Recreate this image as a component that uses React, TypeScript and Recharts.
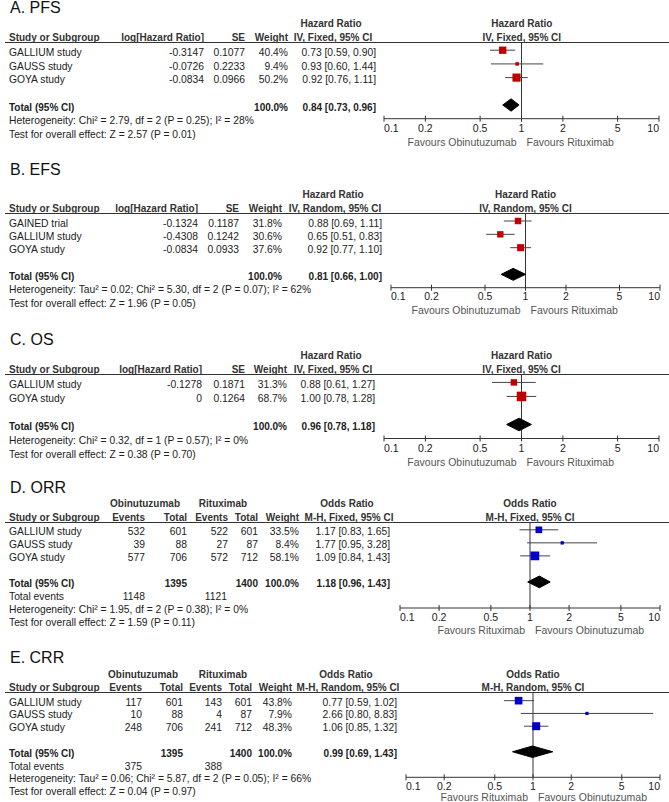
import React from "react"
import { ScatterChart, Scatter, XAxis, YAxis, ReferenceLine, ErrorBar } from "recharts"

// A. PFS
const pfsStudies = ["GALLIUM study", "GAUSS study", "GOYA study"]
const pfsLogHr = [-0.3147, -0.0726, -0.0834]
const pfsSe = [0.1077, 0.2233, 0.0966]
const pfsWeight = [40.4, 9.4, 50.2]
const pfsHr = [0.73, 0.93, 0.92]
const pfsLow = [0.59, 0.6, 0.76]
const pfsHigh = [0.9, 1.44, 1.11]
const pfsTotal = [0.84, 0.73, 0.96]

// B. EFS
const efsStudies = ["GAINED trial", "GALLIUM study", "GOYA study"]
const efsLogHr = [-0.1324, -0.4308, -0.0834]
const efsSe = [0.1187, 0.1242, 0.0933]
const efsWeight = [31.8, 30.6, 37.6]
const efsHr = [0.88, 0.65, 0.92]
const efsLow = [0.69, 0.51, 0.77]
const efsHigh = [1.11, 0.83, 1.1]
const efsTotal = [0.81, 0.66, 1.0]

// C. OS
const osStudies = ["GALLIUM study", "GOYA study"]
const osLogHr = [-0.1278, 0]
const osSe = [0.1871, 0.1264]
const osWeight = [31.3, 68.7]
const osHr = [0.88, 1.0]
const osLow = [0.61, 0.78]
const osHigh = [1.27, 1.28]
const osTotal = [0.96, 0.78, 1.18]

// D. ORR
const orrStudies = ["GALLIUM study", "GAUSS study", "GOYA study"]
const orrObiEvents = [532, 39, 577]
const orrObiTotal = [601, 88, 706]
const orrRitEvents = [522, 27, 572]
const orrRitTotal = [601, 87, 712]
const orrWeight = [33.5, 8.4, 58.1]
const orrOr = [1.17, 1.77, 1.09]
const orrLow = [0.83, 0.95, 0.84]
const orrHigh = [1.65, 3.28, 1.43]
const orrTotal = [1.18, 0.96, 1.43]
const orrSums = [1395, 1400]
const orrTotalEvents = [1148, 1121]

// E. CRR
const crrStudies = ["GALLIUM study", "GAUSS study", "GOYA study"]
const crrObiEvents = [117, 10, 248]
const crrObiTotal = [601, 88, 706]
const crrRitEvents = [143, 4, 241]
const crrRitTotal = [601, 87, 712]
const crrWeight = [43.8, 7.9, 48.3]
const crrOr = [0.77, 2.66, 1.06]
const crrLow = [0.59, 0.8, 0.85]
const crrHigh = [1.02, 8.83, 1.32]
const crrTotal = [0.99, 0.69, 1.43]
const crrSums = [1395, 1400]
const crrTotalEvents = [375, 388]

const axisTicks = [0.1, 0.2, 0.5, 1, 2, 5, 10]

const FONT = '"Liberation Sans", Arial, sans-serif'
const INK = "#222"
const LINE = "#333"
const RED = "#c00000"
const BLUE = "#0000c8"
const MX = 20
const AXIS_H = 34
const DIAMOND_H = 0.45

const ci = (e: number, l: number, h: number) => `${e.toFixed(2)} [${l.toFixed(2)}, ${h.toFixed(2)}]`
const pct = (w: number) => `${w.toFixed(1)}%`

function T({ x, y, children, align = "left", size = 10.3, bold = false, color = INK }: any) {
  const w = 500
  const left = align === "left" ? x : align === "right" ? x - w : x - w / 2
  return (
    <div
      style={{
        position: "absolute",
        left,
        top: y - size / 2,
        width: w,
        textAlign: align,
        fontSize: size,
        lineHeight: `${size}px`,
        fontWeight: bold ? 700 : 400,
        whiteSpace: "nowrap",
        color,
      }}
    >
      {children}
    </div>
  )
}

const makeTick = (fav: string[], labDy: number, favDy: number) => (props: any) => {
  const { x, y, payload } = props
  const v = payload.value
  const anchor = v === 0.1 ? "start" : v === 10 ? "end" : "middle"
  return (
    <g>
      <line x1={x} x2={x} y1={y - 3} y2={y + 3} stroke={LINE} />
      <text x={x} y={y + labDy + 3.7} textAnchor={anchor} fontSize={10.5} fill={INK} fontFamily={FONT}>
        {v}
      </text>
      {v === 1 && (
        <>
          <text x={x - 5} y={y + favDy + 3.7} textAnchor="end" fontSize={10.5} fill="#555" fontFamily={FONT}>
            {fav[0]}
          </text>
          <text x={x + 5} y={y + favDy + 3.7} textAnchor="start" fontSize={10.5} fill="#555" fontFamily={FONT}>
            {fav[1]}
          </text>
        </>
      )}
    </g>
  )
}

function Panel({ cfg }: any) {
  const n = cfg.studies.length
  const pitch = (cfg.axisY - cfg.lineY) / (cfg.axisRow + 0.6)
  const rowY = (r: number) => cfg.lineY + (r + 0.6) * pitch + 2.5
  const headY = cfg.lineY - 4.5
  const groupY = headY - 13.5
  const x1 = (cfg.left + cfg.right) / 2
  const totalRow = n + 1
  const footStart = cfg.totalEvents ? n + 3 : n + 2

  const rows = cfg.studies.map((s: string, i: number) => ({
    x: cfg.est[i],
    y: i,
    w: cfg.weight[i],
    err: [cfg.est[i] - cfg.lo[i], cfg.hi[i] - cfg.est[i]],
  }))
  const [te, tl, th] = cfg.total
  const diamond = [
    { x: tl, y: totalRow },
    { x: te, y: totalRow - DIAMOND_H },
    { x: th, y: totalRow },
    { x: te, y: totalRow + DIAMOND_H },
    { x: tl, y: totalRow },
  ]

  const square = (props: any) => {
    const { cx, cy, payload } = props
    const s = Math.sqrt(payload.w) * 1.15
    return <rect x={cx - s / 2} y={cy - s / 2} width={s} height={s} fill={cfg.color} />
  }

  return (
    <>
      <T x={10} y={cfg.titleY} size={16} color="#111">
        {cfg.title}
      </T>
      {(cfg.groups || []).map((g: any, i: number) => (
        <T key={"g" + i} x={g.x} y={groupY} align="center" size={10} bold color="#333">
          {g.label}
        </T>
      ))}
      <T x={cfg.ciHeadX - 2} y={groupY} align="center" size={10} bold color="#333">
        {cfg.measure}
      </T>
      <T x={x1} y={groupY} align="center" size={10} bold color="#333">
        {cfg.measure}
      </T>
      <T x={9} y={headY} size={10} bold color="#333">
        Study or Subgroup
      </T>
      {cfg.columns.map((c: any, i: number) => (
        <T key={"h" + i} x={c.x} y={headY} align="right" size={10} bold color="#333">
          {c.label}
        </T>
      ))}
      <T x={cfg.ciHeadX} y={headY} align="center" size={10} bold color="#333">
        {cfg.method}
      </T>
      <T x={x1} y={headY} align="center" size={10} bold color="#333">
        {cfg.method}
      </T>
      <div style={{ position: "absolute", left: 5, top: cfg.lineY - 0.5, width: 664, height: 1, background: LINE }} />

      {cfg.studies.map((s: string, i: number) => (
        <React.Fragment key={"r" + i}>
          <T x={9} y={rowY(i)}>
            {s}
          </T>
          {cfg.columns.map((c: any, j: number) => (
            <T key={"c" + j} x={c.x} y={rowY(i)} align="right">
              {c.cells[i]}
            </T>
          ))}
          <T x={cfg.ciX} y={rowY(i)} align="right">
            {ci(cfg.est[i], cfg.lo[i], cfg.hi[i])}
          </T>
        </React.Fragment>
      ))}

      <T x={9} y={rowY(totalRow)} size={10} bold>
        Total (95% CI)
      </T>
      {cfg.columns
        .filter((c: any) => c.total)
        .map((c: any, j: number) => (
          <T key={"t" + j} x={c.x} y={rowY(totalRow)} align="right" size={10} bold>
            {c.total}
          </T>
        ))}
      <T x={cfg.ciX} y={rowY(totalRow)} align="right" size={10} bold>
        {ci(te, tl, th)}
      </T>

      {cfg.totalEvents && (
        <>
          <T x={9} y={rowY(n + 2)}>
            Total events
          </T>
          {cfg.totalEvents.map((t: any, j: number) => (
            <T key={"e" + j} x={t.x} y={rowY(n + 2)} align="right">
              {t.value}
            </T>
          ))}
        </>
      )}
      {cfg.footers.map((f: string, j: number) => (
        <T key={"f" + j} x={9} y={rowY(footStart + j)}>
          {f}
        </T>
      ))}

      <div style={{ position: "absolute", left: cfg.left - MX, top: cfg.lineY }}>
        <ScatterChart
          width={cfg.right - cfg.left + 2 * MX}
          height={cfg.axisY - cfg.lineY + AXIS_H}
          margin={{ top: 0, right: MX, bottom: 0, left: MX }}
        >
          <XAxis
            type="number"
            dataKey="x"
            scale="log"
            domain={[0.1, 10]}
            ticks={axisTicks}
            interval={0}
            allowDataOverflow
            height={AXIS_H}
            axisLine={{ stroke: LINE }}
            tickLine={false}
            tickSize={0}
            tickMargin={0}
            tick={makeTick(cfg.favours, cfg.labDy, cfg.favDy)}
          />
          <YAxis type="number" dataKey="y" domain={[-0.6, cfg.axisRow]} reversed hide allowDataOverflow />
          <ReferenceLine x={1} stroke={LINE} />
          <Scatter data={rows} shape={square} isAnimationActive={false}>
            <ErrorBar dataKey="err" direction="x" width={0} stroke="#444" strokeWidth={1} />
          </Scatter>
          <Scatter
            data={diamond}
            fill="#000"
            line={{ fill: "#000", stroke: "#000", strokeWidth: 1 }}
            lineType="joint"
            shape={() => <g />}
            isAnimationActive={false}
          />
        </ScatterChart>
      </div>
    </>
  )
}

const hrCols = (logHr: number[], se: number[], weight: number[], xs: number[]) => [
  { label: "log[Hazard Ratio]", x: xs[0], cells: logHr.map(String) },
  { label: "SE", x: xs[1], cells: se.map(String) },
  { label: "Weight", x: xs[2], cells: weight.map(pct), total: "100.0%" },
]

const orCols = (oe: number[], ot: number[], re: number[], rt: number[], w: number[], sums: number[], xs: number[]) => [
  { label: "Events", x: xs[0], cells: oe.map(String) },
  { label: "Total", x: xs[1], cells: ot.map(String), total: String(sums[0]) },
  { label: "Events", x: xs[2], cells: re.map(String) },
  { label: "Total", x: xs[3], cells: rt.map(String), total: String(sums[1]) },
  { label: "Weight", x: xs[4], cells: w.map(pct), total: "100.0%" },
]

const panels = [
  {
    title: "A. PFS",
    titleY: 8,
    lineY: 42.3,
    axisY: 119,
    axisRow: 5,
    left: 384.3,
    right: 659.3,
    measure: "Hazard Ratio",
    method: "IV, Fixed, 95% CI",
    studies: pfsStudies,
    columns: hrCols(pfsLogHr, pfsSe, pfsWeight, [204, 245, 288]),
    ciX: 376,
    ciHeadX: 333,
    est: pfsHr,
    lo: pfsLow,
    hi: pfsHigh,
    weight: pfsWeight,
    total: pfsTotal,
    footers: ["Heterogeneity: Chi² = 2.79, df = 2 (P = 0.25); I² = 28%", "Test for overall effect: Z = 2.57 (P = 0.01)"],
    favours: ["Favours Obinutuzumab", "Favours Rituximab"],
    color: RED,
    labDy: 9.5,
    favDy: 23.5,
  },
  {
    title: "B. EFS",
    titleY: 170,
    lineY: 213.3,
    axisY: 288,
    axisRow: 5,
    left: 391,
    right: 660,
    measure: "Hazard Ratio",
    method: "IV, Random, 95% CI",
    studies: efsStudies,
    columns: hrCols(efsLogHr, efsSe, efsWeight, [198, 239, 282]),
    ciX: 382,
    ciHeadX: 335,
    est: efsHr,
    lo: efsLow,
    hi: efsHigh,
    weight: efsWeight,
    total: efsTotal,
    footers: [
      "Heterogeneity: Tau² = 0.02; Chi² = 5.30, df = 2 (P = 0.07); I² = 62%",
      "Test for overall effect: Z = 1.96 (P = 0.05)",
    ],
    favours: ["Favours Obinutuzumab", "Favours Rituximab"],
    color: RED,
    labDy: 9,
    favDy: 23,
  },
  {
    title: "C. OS",
    titleY: 340,
    lineY: 374,
    axisY: 438.5,
    axisRow: 4,
    left: 384,
    right: 659,
    measure: "Hazard Ratio",
    method: "IV, Fixed, 95% CI",
    studies: osStudies,
    columns: hrCols(osLogHr, osSe, osWeight, [202, 245, 287]),
    ciX: 375,
    ciHeadX: 333,
    est: osHr,
    lo: osLow,
    hi: osHigh,
    weight: osWeight,
    total: osTotal,
    footers: ["Heterogeneity: Chi² = 0.32, df = 1 (P = 0.57); I² = 0%", "Test for overall effect: Z = 0.38 (P = 0.70)"],
    favours: ["Favours Obinutuzumab", "Favours Rituximab"],
    color: RED,
    labDy: 9.5,
    favDy: 23.5,
  },
  {
    title: "D. ORR",
    titleY: 488,
    lineY: 522,
    axisY: 608,
    axisRow: 6,
    left: 400,
    right: 660,
    measure: "Odds Ratio",
    method: "M-H, Fixed, 95% CI",
    studies: orrStudies,
    groups: [
      { label: "Obinutuzumab", x: 145 },
      { label: "Rituximab", x: 223 },
    ],
    columns: orCols(orrObiEvents, orrObiTotal, orrRitEvents, orrRitTotal, orrWeight, orrSums, [145, 187, 228, 258, 299]),
    totalEvents: [
      { x: 145, value: String(orrTotalEvents[0]) },
      { x: 227, value: String(orrTotalEvents[1]) },
    ],
    ciX: 390,
    ciHeadX: 349,
    est: orrOr,
    lo: orrLow,
    hi: orrHigh,
    weight: orrWeight,
    total: orrTotal,
    footers: ["Heterogeneity: Chi² = 1.95, df = 2 (P = 0.38); I² = 0%", "Test for overall effect: Z = 1.59 (P = 0.11)"],
    favours: ["Favours Rituximab", "Favours Obinutuzumab"],
    color: BLUE,
    labDy: 9,
    favDy: 22,
  },
  {
    title: "E. CRR",
    titleY: 658,
    lineY: 692.7,
    axisY: 777,
    axisRow: 6,
    left: 406,
    right: 660,
    measure: "Odds Ratio",
    method: "M-H, Random, 95% CI",
    studies: crrStudies,
    groups: [
      { label: "Obinutuzumab", x: 143 },
      { label: "Rituximab", x: 223 },
    ],
    columns: orCols(crrObiEvents, crrObiTotal, crrRitEvents, crrRitTotal, crrWeight, crrSums, [142, 183, 222, 252, 292]),
    totalEvents: [
      { x: 142, value: String(crrTotalEvents[0]) },
      { x: 222, value: String(crrTotalEvents[1]) },
    ],
    ciX: 397,
    ciHeadX: 348,
    est: crrOr,
    lo: crrLow,
    hi: crrHigh,
    weight: crrWeight,
    total: crrTotal,
    footers: [
      "Heterogeneity: Tau² = 0.06; Chi² = 5.87, df = 2 (P = 0.05); I² = 66%",
      "Test for overall effect: Z = 0.04 (P = 0.97)",
    ],
    favours: ["Favours Rituximab", "Favours Obinutuzumab"],
    color: BLUE,
    labDy: 9,
    favDy: 20,
  },
]

export default function App() {
  return (
    <div
      style={{
        position: "absolute",
        left: 0,
        top: 0,
        width: 669,
        height: 802,
        overflow: "hidden",
        background: "#fff",
        fontFamily: FONT,
        color: INK,
      }}
    >
      {panels.map((p) => (
        <Panel key={p.title} cfg={p} />
      ))}
    </div>
  )
}
